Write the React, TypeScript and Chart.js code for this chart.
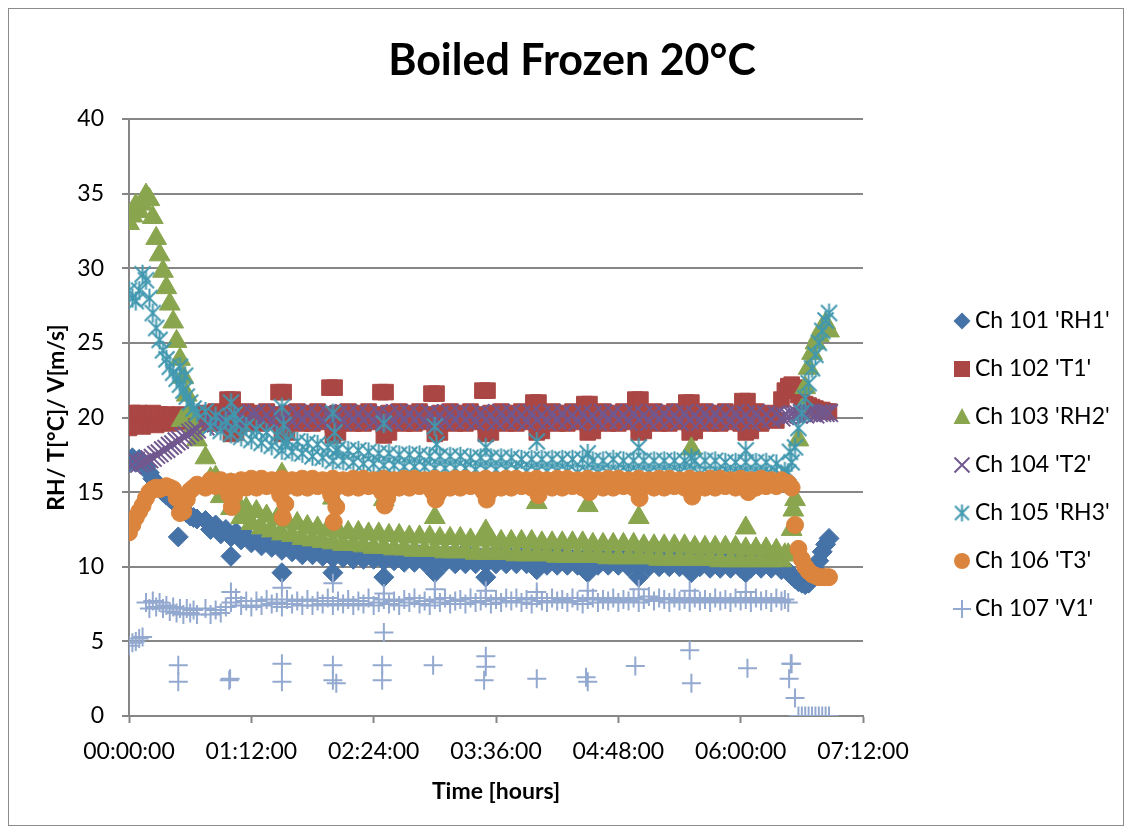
import React, { useEffect, useRef } from 'react';
import { Chart, registerables } from 'chart.js';

Chart.register(...registerables);

const FONT = 'Lato, "Open Sans", sans-serif';
const GRID = '#868686';

// ---- time axis (minutes since start) ----
const TIME_MIN = [
  0, 2, 4, 6, 8, 10, 12, 14, 16, 18, 20, 22, 24, 26, 28, 30, 32, 34, 36, 38, 40,
  45, 48, 51, 54, 57, 60, 63, 66, 69, 72,
  75, 78, 81, 84, 87, 90, 93, 96, 99, 102,
  105, 108, 111, 114, 117, 120, 123, 126, 129, 132,
  135, 138, 141, 144, 147, 150, 153, 156, 159, 162,
  165, 168, 171, 174, 177, 180, 183, 186, 189, 192,
  195, 198, 201, 204, 207, 210, 213, 216, 219, 222,
  225, 228, 231, 234, 237, 240, 243, 246, 249, 252,
  255, 258, 261, 264, 267, 270, 273, 276, 279, 282,
  285, 288, 291, 294, 297, 300, 303, 306, 309, 312,
  315, 318, 321, 324, 327, 330, 333, 336, 339, 342,
  345, 348, 351, 354, 357, 360, 363, 366, 369, 372,
  375, 378, 381, 384,
  386, 388, 390, 392, 394, 396, 398, 400, 402, 404, 406, 408, 410, 412,
];

// ---- series values on TIME_MIN ----
const RH1 = [
  17.0, 17.3, 17.0, 17.2, 16.9, 16.7, 16.3, 15.9, 15.6, 15.3, 15.0, 14.8, 14.6, 14.4, 14.2, 14.0, 13.8, 13.6, 13.4, 13.3, 13.2,
  13.1, 12.5, 12.8, 12.2, 12.5, 12.0, 12.3, 11.8, 12.1, 11.6,
  11.9, 11.4, 11.7, 11.3, 11.6, 11.1, 11.4, 11.0, 11.3, 10.8,
  11.2, 10.8, 11.1, 10.7, 11.1, 10.6, 11.0, 10.6, 10.9, 10.5,
  10.9, 10.5, 10.9, 10.5, 10.8, 10.4, 10.8, 10.4, 10.8, 10.3,
  10.8, 10.3, 10.8, 10.3, 10.7, 10.3, 10.7, 10.3, 10.7, 10.2,
  10.7, 10.2, 10.7, 10.2, 10.6, 10.2, 10.6, 10.2, 10.6, 10.2,
  10.6, 10.2, 10.6, 10.2, 10.6, 10.1, 10.6, 10.1, 10.6, 10.1,
  10.6, 10.1, 10.5, 10.1, 10.5, 10.1, 10.5, 10.1, 10.5, 10.1,
  10.5, 10.1, 10.5, 10.0, 10.5, 10.0, 10.5, 10.0, 10.4, 10.0,
  10.4, 10.0, 10.4, 10.0, 10.4, 10.0, 10.4, 10.0, 10.4, 9.9,
  10.4, 9.9, 10.4, 9.9, 10.3, 9.9, 10.3, 9.9, 10.3, 9.9,
  10.3, 9.9, 10.2, 9.8,
  9.9, 9.7, 9.4, 9.2, 9.0, 8.9, 8.8, 8.9, 9.3, 9.8, 10.4, 11.0, 11.5, 11.9,
];

const T1 = [
  19.3, 20.3, 19.5, 20.3, 19.4, 20.2, 19.6, 20.3, 19.5, 20.2, 19.7, 20.2, 19.6, 20.1, 19.8, 20.2, 19.7, 20.1, 19.8, 20.2, 19.8,
  20.3, 19.6, 20.4, 19.7, 20.2, 19.5, 20.3, 19.7, 20.4, 19.6,
  20.3, 19.6, 20.4, 19.7, 20.2, 19.5, 20.3, 19.7, 20.4, 19.6,
  20.3, 19.6, 20.4, 19.7, 20.2, 19.5, 20.3, 19.7, 20.4, 19.6,
  20.3, 19.6, 20.4, 19.7, 20.2, 19.5, 20.3, 19.7, 20.4, 19.6,
  20.3, 19.6, 20.4, 19.7, 20.2, 19.5, 20.3, 19.7, 20.4, 19.6,
  20.3, 19.6, 20.4, 19.7, 20.2, 19.5, 20.3, 19.7, 20.4, 19.6,
  20.3, 19.6, 20.4, 19.7, 20.2, 19.6, 20.3, 19.7, 20.4, 19.6,
  20.3, 19.6, 20.4, 19.7, 20.2, 19.6, 20.3, 19.7, 20.4, 19.6,
  20.3, 19.6, 20.4, 19.7, 20.2, 19.6, 20.3, 19.7, 20.4, 19.6,
  20.3, 19.6, 20.4, 19.7, 20.2, 19.6, 20.3, 19.7, 20.4, 19.6,
  20.3, 19.6, 20.4, 19.7, 20.2, 19.6, 20.3, 19.7, 20.4, 19.6,
  20.0, 20.3, 19.8, 21.2,
  21.8, 22.1, 22.2, 22.0, 21.5, 21.1, 20.9, 20.8, 20.7, 20.6, 20.5, 20.5, 20.4, 20.4,
];

const RH2 = [
  33.0, 33.5, 34.2, 33.8, 34.3, 34.9, 34.6, 33.4, 32.0, 30.9, 29.8, 28.7, 27.6, 26.4, 25.1, 23.9, 22.7, 21.5, 20.4, 19.4, 18.5,
  17.3, 15.9, 16.0, 14.7, 15.0, 13.9, 14.4, 13.3, 13.9, 12.9,
  13.7, 12.6, 13.4, 12.4, 13.2, 12.2, 13.0, 12.1, 12.9, 11.9,
  12.7, 11.8, 12.6, 11.7, 12.5, 11.6, 12.4, 11.5, 12.3, 11.5,
  12.3, 11.4, 12.2, 11.3, 12.2, 11.3, 12.1, 11.2, 12.1, 11.2,
  12.0, 11.1, 12.0, 11.1, 12.0, 11.1, 11.9, 11.0, 11.9, 11.0,
  11.9, 11.0, 11.8, 10.9, 11.8, 10.9, 11.8, 10.9, 11.7, 10.9,
  11.7, 10.8, 11.7, 10.8, 11.7, 10.8, 11.6, 10.8, 11.6, 10.7,
  11.6, 10.7, 11.6, 10.7, 11.6, 10.7, 11.5, 10.7, 11.5, 10.6,
  11.5, 10.6, 11.5, 10.6, 11.5, 10.6, 11.4, 10.6, 11.4, 10.5,
  11.4, 10.5, 11.4, 10.5, 11.4, 10.5, 11.3, 10.5, 11.3, 10.5,
  11.3, 10.4, 11.3, 10.4, 11.3, 10.4, 11.2, 10.4, 11.2, 10.4,
  11.2, 10.4, 11.1, 10.4,
  10.8, 10.8, 12.5, 14.5, 18.5, 20.5, 22.0, 23.3, 24.3, 25.0, 25.5, 26.0, 26.3, 25.8,
];

const T2 = [
  17.0, 16.8, 17.1, 16.9, 17.0, 17.1, 17.2, 17.3, 17.5, 17.6, 17.8, 17.9, 18.1, 18.2, 18.4, 18.5, 18.7, 18.8, 19.0, 19.1, 19.2,
  19.4, 19.7, 19.6, 19.9, 19.7, 20.1, 19.8, 20.2, 19.8, 20.3,
  20.3, 19.8, 20.2, 19.7, 20.3, 19.8, 20.2, 19.7, 20.3, 19.8,
  20.3, 19.8, 20.2, 19.7, 20.3, 19.8, 20.2, 19.7, 20.3, 19.8,
  20.3, 19.8, 20.2, 19.7, 20.3, 19.8, 20.2, 19.7, 20.3, 19.8,
  20.3, 19.8, 20.2, 19.7, 20.3, 19.8, 20.2, 19.7, 20.3, 19.8,
  20.3, 19.8, 20.2, 19.7, 20.3, 19.8, 20.2, 19.7, 20.3, 19.8,
  20.3, 19.8, 20.2, 19.7, 20.3, 19.8, 20.2, 19.7, 20.3, 19.8,
  20.3, 19.8, 20.2, 19.7, 20.3, 19.8, 20.2, 19.7, 20.3, 19.8,
  20.3, 19.8, 20.2, 19.7, 20.3, 19.8, 20.2, 19.7, 20.3, 19.8,
  20.3, 19.8, 20.2, 19.7, 20.3, 19.8, 20.2, 19.7, 20.3, 19.8,
  20.3, 19.8, 20.2, 19.7, 20.3, 19.8, 20.2, 19.7, 20.3, 19.8,
  20.2, 19.9, 20.2, 20.0,
  20.1, 20.1, 20.2, 20.2, 20.2, 20.3, 20.2, 20.3, 20.3, 20.2, 20.3, 20.3, 20.3, 20.3,
];

const RH3 = [
  28.5, 28.0, 27.8, 28.5, 29.6, 29.2, 28.0, 27.0, 26.0, 25.2, 24.5, 23.9, 23.4, 23.0, 22.6, 22.2, 21.8, 21.4, 21.0, 20.6, 20.3,
  20.4, 19.4, 20.1, 19.1, 19.8, 18.9, 19.6, 18.7, 19.4, 18.5,
  19.2, 18.3, 19.0, 18.1, 18.8, 17.8, 18.5, 17.7, 18.4, 17.6,
  18.3, 17.4, 18.2, 17.3, 18.0, 17.1, 17.9, 17.1, 17.8, 17.0,
  17.8, 16.9, 17.7, 16.9, 17.6, 16.8, 17.6, 16.8, 17.5, 16.7,
  17.5, 16.7, 17.5, 16.7, 17.4, 16.6, 17.4, 16.6, 17.4, 16.6,
  17.4, 16.6, 17.3, 16.5, 17.3, 16.5, 17.3, 16.5, 17.3, 16.5,
  17.3, 16.5, 17.2, 16.4, 17.2, 16.4, 17.2, 16.4, 17.2, 16.4,
  17.2, 16.4, 17.2, 16.3, 17.2, 16.3, 17.1, 16.3, 17.1, 16.3,
  17.2, 16.3, 17.1, 16.3, 17.1, 16.3, 17.1, 16.3, 17.1, 16.3,
  17.1, 16.3, 17.1, 16.3, 17.1, 16.3, 17.1, 16.2, 17.1, 16.2,
  17.1, 16.2, 17.0, 16.2, 17.0, 16.2, 17.0, 16.2, 17.0, 16.2,
  17.0, 16.2, 16.9, 16.1,
  16.4, 16.3, 17.0, 18.0, 19.3, 20.3, 21.3, 22.3, 23.3, 24.2, 25.0, 25.8, 26.5, 27.0,
];

const T3 = [
  12.3, 12.8, 13.3, 13.7, 14.1, 14.6, 15.0, 15.2, 15.3, 15.2, 15.3, 15.4, 15.3, 15.2, 14.6, 13.6, 13.7, 14.5, 15.1, 15.3, 15.5,
  15.3, 15.8, 15.4, 15.8, 15.3, 15.7, 15.4, 15.8, 15.3, 15.9,
  15.3, 15.9, 15.4, 15.8, 15.3, 15.9, 15.4, 15.8, 15.3, 15.9,
  15.3, 15.9, 15.4, 15.8, 15.3, 15.9, 15.4, 15.8, 15.3, 15.9,
  15.3, 15.9, 15.4, 15.8, 15.3, 15.9, 15.4, 15.8, 15.3, 15.9,
  15.3, 15.9, 15.4, 15.8, 15.3, 15.9, 15.4, 15.8, 15.3, 15.9,
  15.3, 15.9, 15.4, 15.8, 15.3, 15.9, 15.4, 15.8, 15.3, 15.9,
  15.3, 15.9, 15.4, 15.8, 15.3, 15.9, 15.4, 15.8, 15.3, 15.9,
  15.3, 15.9, 15.4, 15.8, 15.3, 15.9, 15.4, 15.8, 15.3, 15.9,
  15.3, 15.9, 15.4, 15.8, 15.3, 15.9, 15.4, 15.8, 15.3, 15.9,
  15.3, 15.9, 15.4, 15.8, 15.3, 15.9, 15.4, 15.8, 15.3, 15.9,
  15.3, 15.9, 15.4, 15.8, 15.3, 15.9, 15.4, 15.8, 15.3, 15.9,
  15.4, 15.8, 15.4, 15.8,
  15.6, 15.6, 15.3, 12.8, 11.2, 10.5, 10.0, 9.7, 9.5, 9.4, 9.3, 9.3, 9.3, 9.3,
];

const V1 = [
  4.7, 4.9, 5.0, 5.2, 5.3, 7.6, 7.2, 7.7, 7.3, 7.6, 7.2, 7.4, 7.0, 7.3, 6.9, 7.2, 6.8, 7.2, 6.9, 7.1, 6.8,
  7.2, 6.8, 7.1, 6.9, 7.3, 7.6, 7.9, 7.4, 7.7, 7.3,
  7.7, 7.4, 7.8, 7.5, 7.6, 7.3, 7.8, 7.5, 7.7, 7.4,
  7.8, 7.4, 7.7, 7.5, 7.9, 7.4, 7.7, 7.5, 7.8, 7.4,
  7.7, 7.5, 7.9, 7.4, 7.6, 7.8, 7.5, 7.7, 7.4, 7.8,
  7.6, 7.9, 7.5, 7.7, 7.4, 7.8, 7.6, 7.9, 7.5, 7.7,
  7.8, 7.5, 7.9, 7.6, 7.7, 7.9, 7.5, 7.8, 7.6, 7.9,
  7.7, 7.9, 7.6, 7.8, 7.5, 7.9, 7.7, 7.6, 7.9, 7.7,
  7.8, 7.6, 7.9, 7.7, 7.5, 7.8, 7.9, 7.6, 7.8, 7.7,
  7.9, 7.6, 7.8, 7.7, 7.9, 7.6, 7.8, 8.0, 7.7, 7.9,
  7.8, 7.6, 7.9, 7.7, 7.8, 7.6, 7.9, 7.7, 7.8, 7.6,
  7.9, 7.7, 7.8, 7.6, 7.9, 7.7, 7.8, 7.6, 7.9, 7.7,
  7.8, 7.6, 7.9, 7.7,
  7.8, 7.6, 3.5, 1.2, 0, 0, 0, 0, 0, 0, 0, 0, 0, 0,
];

// ---- extra readings around the half-hourly events (time, value) ----
const RH1_EV_T = [29, 60, 90, 120, 150, 180, 210, 240, 270, 300, 331, 363];
const RH1_EV_V = [12.0, 10.7, 9.6, 9.6, 9.3, 9.6, 9.3, 9.8, 9.6, 9.3, 9.6, 9.6];

const T1_EV_T = [58, 61, 60, 63, 88, 91, 90, 93, 118, 121, 120, 123, 148, 151, 150, 153, 178, 181, 180, 183, 208, 211, 210, 213, 238, 241, 240, 243, 268, 271, 270, 273, 298, 301, 300, 303, 328, 331, 330, 333, 361, 364, 363, 366];
const T1_EV_V = [21.2, 21.2, 18.9, 19.0, 21.7, 21.7, 18.9, 19.0, 22.0, 22.0, 18.8, 19.0, 21.7, 21.7, 18.8, 19.0, 21.6, 21.6, 18.9, 19.0, 21.8, 21.8, 18.9, 19.0, 21.0, 21.0, 19.0, 19.1, 20.9, 20.9, 19.0, 19.1, 21.2, 21.2, 19.0, 19.1, 21.0, 21.0, 19.0, 19.1, 21.1, 21.1, 19.0, 19.1];

const RH2_EV_T = [31, 60, 90, 120, 150, 180, 210, 240, 270, 300, 331, 363, 391];
const RH2_EV_V = [19.8, 15.5, 16.2, 14.6, 14.5, 13.3, 12.4, 14.3, 14.1, 13.3, 17.9, 12.6, 13.8];

const T2_EV_T: number[] = [];
const T2_EV_V: number[] = [];

const RH3_EV_T = [30, 33, 60, 62, 90, 91, 92, 120, 121, 122, 150, 180, 181, 210, 240, 270, 300, 331, 363, 389];
const RH3_EV_V = [23.4, 22.8, 21.0, 20.2, 20.7, 19.5, 18.3, 20.3, 19.0, 17.8, 19.6, 19.4, 18.2, 18.0, 18.4, 17.6, 18.0, 17.3, 17.8, 17.7];

const T3_EV_T = [59, 60.5, 62, 89, 90.5, 92, 119, 120.5, 122, 149, 150.5, 152, 179, 180.5, 182, 209, 210.5, 212, 239.5, 241, 269.5, 271, 299, 300.5, 330, 331.5, 363, 364.5];
const T3_EV_V = [14.8, 14.0, 14.8, 14.8, 13.3, 14.2, 14.8, 13.0, 14.0, 15.0, 14.1, 14.6, 15.0, 14.5, 14.9, 15.0, 14.5, 15.0, 15.2, 14.8, 15.3, 15.0, 15.2, 14.6, 15.2, 14.7, 15.3, 15.0];

const V1_EV_T = [29, 29, 59, 59.5, 90, 90, 120, 120, 122, 149, 149, 150, 179, 209, 210, 210, 240, 269, 270, 298, 330, 331, 364, 388.5, 389.5, 60, 90, 120, 150, 180, 210, 240, 270, 300, 330, 363];
const V1_EV_V = [3.4, 2.3, 2.4, 2.5, 3.5, 2.3, 3.4, 2.4, 2.2, 3.4, 2.4, 5.6, 3.4, 2.4, 4.0, 3.3, 2.5, 2.6, 2.3, 3.35, 4.4, 2.2, 3.2, 2.5, 3.5, 8.3, 8.6, 8.9, 8.2, 8.5, 8.4, 8.3, 8.4, 8.5, 8.4, 8.3];

const SERIES_NAMES = ["Ch 101 'RH1'", "Ch 102 'T1'", "Ch 103 'RH2'", "Ch 104 'T2'", "Ch 105 'RH3'", "Ch 106 'T3'", "Ch 107 'V1'"];
const COLORS = ['#4572A7', '#AA4643', '#89A54E', '#71588F', '#4198AF', '#DB843D', '#93A9CF'];

const X_TICK_STEP = 72;
const X_MAX = 432;
const Y_MAX = 40;
const Y_STEP = 5;

function pts(base: number[], evT: number[], evV: number[]) {
  const out = base.map((v, i) => ({ x: TIME_MIN[i], y: v }));
  evT.forEach((t, i) => out.push({ x: t, y: evV[i] }));
  return out;
}

function fmtTime(v: number) {
  const h = Math.floor(v / 60);
  const m = Math.round(v - h * 60);
  const p = (n: number) => (n < 10 ? '0' + n : '' + n);
  return p(h) + ':' + p(m) + ':00';
}

function makeStar(color: string, size: number) {
  const c = document.createElement('canvas');
  c.width = size;
  c.height = size;
  const g = c.getContext('2d')!;
  const e = size - 2.5;
  const m = size / 2;
  g.strokeStyle = color;
  g.lineWidth = 2;
  g.beginPath();
  g.moveTo(2.5, 2.5); g.lineTo(e, e);
  g.moveTo(e, 2.5); g.lineTo(2.5, e);
  g.moveTo(m, 1); g.lineTo(m, size - 1);
  g.stroke();
  return c;
}

function drawMarker(ctx: CanvasRenderingContext2D, i: number, x: number, y: number, star: HTMLCanvasElement) {
  const col = COLORS[i];
  ctx.fillStyle = col;
  ctx.strokeStyle = col;
  ctx.lineWidth = 2;
  ctx.beginPath();
  switch (i) {
    case 0:
      ctx.moveTo(x, y - 8.5); ctx.lineTo(x + 8.5, y); ctx.lineTo(x, y + 8.5); ctx.lineTo(x - 8.5, y); ctx.closePath(); ctx.fill();
      break;
    case 1:
      ctx.rect(x - 8, y - 8, 16, 16); ctx.fill();
      break;
    case 2:
      ctx.moveTo(x, y - 9); ctx.lineTo(x + 8.5, y + 7); ctx.lineTo(x - 8.5, y + 7); ctx.closePath(); ctx.fill();
      break;
    case 3:
      ctx.moveTo(x - 7.5, y - 7.5); ctx.lineTo(x + 7.5, y + 7.5); ctx.moveTo(x + 7.5, y - 7.5); ctx.lineTo(x - 7.5, y + 7.5); ctx.stroke();
      break;
    case 4:
      ctx.drawImage(star, x - star.width / 2, y - star.height / 2);
      break;
    case 5:
      ctx.arc(x, y, 8, 0, Math.PI * 2); ctx.fill();
      break;
    default:
      ctx.moveTo(x - 9, y); ctx.lineTo(x + 9, y); ctx.moveTo(x, y - 9); ctx.lineTo(x, y + 9); ctx.stroke();
  }
}

export default function App() {
  const ref = useRef<HTMLCanvasElement>(null);

  useEffect(() => {
    if (!ref.current) return;
    const star = makeStar(COLORS[4], 21);
    const legendStar = makeStar(COLORS[4], 19);
    const styles: any[] = ['rectRot', 'rect', 'triangle', 'crossRot', star, 'circle', 'cross'];
    const radii = [10, 11, 12, 12.5, 10.5, 8.5, 9.5];
    const borderW = [1, 1, 1, 2, 1, 1, 2];
    const bases = [RH1, T1, RH2, T2, RH3, T3, V1];
    const evT = [RH1_EV_T, T1_EV_T, RH2_EV_T, T2_EV_T, RH3_EV_T, T3_EV_T, V1_EV_T];
    const evV = [RH1_EV_V, T1_EV_V, RH2_EV_V, T2_EV_V, RH3_EV_V, T3_EV_V, V1_EV_V];

    const datasets = bases.map((b, i) => ({
      label: SERIES_NAMES[i],
      data: pts(b, evT[i], evV[i]),
      showLine: false,
      pointStyle: styles[i],
      pointRadius: radii[i],
      pointHoverRadius: radii[i],
      pointBorderWidth: borderW[i],
      backgroundColor: COLORS[i],
      borderColor: COLORS[i],
      order: 6 - i,
    }));

    const legendPlugin = {
      id: 'excelLegend',
      afterDraw(chart: any) {
        const ctx: CanvasRenderingContext2D = chart.ctx;
        ctx.save();
        ctx.font = '23px ' + FONT;
        ctx.textBaseline = 'middle';
        ctx.textAlign = 'left';
        for (let i = 0; i < SERIES_NAMES.length; i++) {
          const y = 312 + i * 48;
          drawMarker(ctx, i, 953, y, legendStar);
          ctx.fillStyle = '#000';
          ctx.fillText(SERIES_NAMES[i], 966, y);
        }
        ctx.restore();
      },
    };

    const chart = new Chart(ref.current, {
      type: 'scatter',
      data: { datasets: datasets as any },
      options: {
        animation: false,
        responsive: false,
        devicePixelRatio: 1,
        events: [],
        layout: { padding: { left: 12, right: 0, top: 0, bottom: 0 } },
        plugins: {
          legend: { display: false },
          tooltip: { enabled: false },
          title: {
            display: true,
            text: 'Boiled Frozen 20°C',
            color: '#000',
            font: { family: FONT, size: 43, weight: 'bold' },
            padding: { top: 26.5, bottom: 31.9 },
          },
        },
        scales: {
          x: {
            type: 'linear',
            position: 'bottom',
            min: 0,
            max: X_MAX,
            ticks: {
              stepSize: X_TICK_STEP,
              callback: (v: any) => fmtTime(Number(v)),
              color: '#000',
              font: { family: FONT, size: 23 },
              padding: 15,
              maxRotation: 0,
              autoSkip: false,
            },
            grid: { drawOnChartArea: false, drawTicks: true, tickLength: 7, tickColor: GRID, tickWidth: 2 },
            border: { display: true, color: GRID, width: 2 },
            title: {
              display: true,
              text: 'Time [hours]',
              color: '#000',
              font: { family: FONT, size: 23, weight: 'bold' },
              padding: { top: 0, bottom: 20 },
            },
            afterFit: (s: any) => { s.height = 109; },
          },
          y: {
            type: 'linear',
            position: 'left',
            min: 0,
            max: Y_MAX,
            ticks: { stepSize: Y_STEP, color: '#000', font: { family: FONT, size: 23 }, padding: 18 },
            grid: { color: GRID, lineWidth: 2, drawTicks: true, tickLength: 7, tickColor: GRID, tickWidth: 2 },
            border: { display: true, color: GRID, width: 2 },
            title: {
              display: true,
              text: 'RH/ T[°C]/ V[m/s]',
              color: '#000',
              font: { family: FONT, size: 23, weight: 'bold' },
              padding: { top: 22, bottom: 0 },
            },
            afterFit: (s: any) => { s.width = 108; },
          },
          yRight: {
            type: 'linear',
            position: 'right',
            min: 0,
            max: Y_MAX,
            display: true,
            ticks: { display: false },
            grid: { display: false, drawTicks: false },
            border: { display: false },
            afterFit: (s: any) => { s.width = 260; },
          },
        },
      } as any,
      plugins: [legendPlugin],
    });

    return () => chart.destroy();
  }, []);

  return (
    <div style={{ width: 1116, height: 818, border: '1px solid #8c8c8c', boxSizing: 'border-box', background: '#fff' }}>
      <canvas ref={ref} width={1114} height={816} style={{ display: 'block' }} />
    </div>
  );
}
